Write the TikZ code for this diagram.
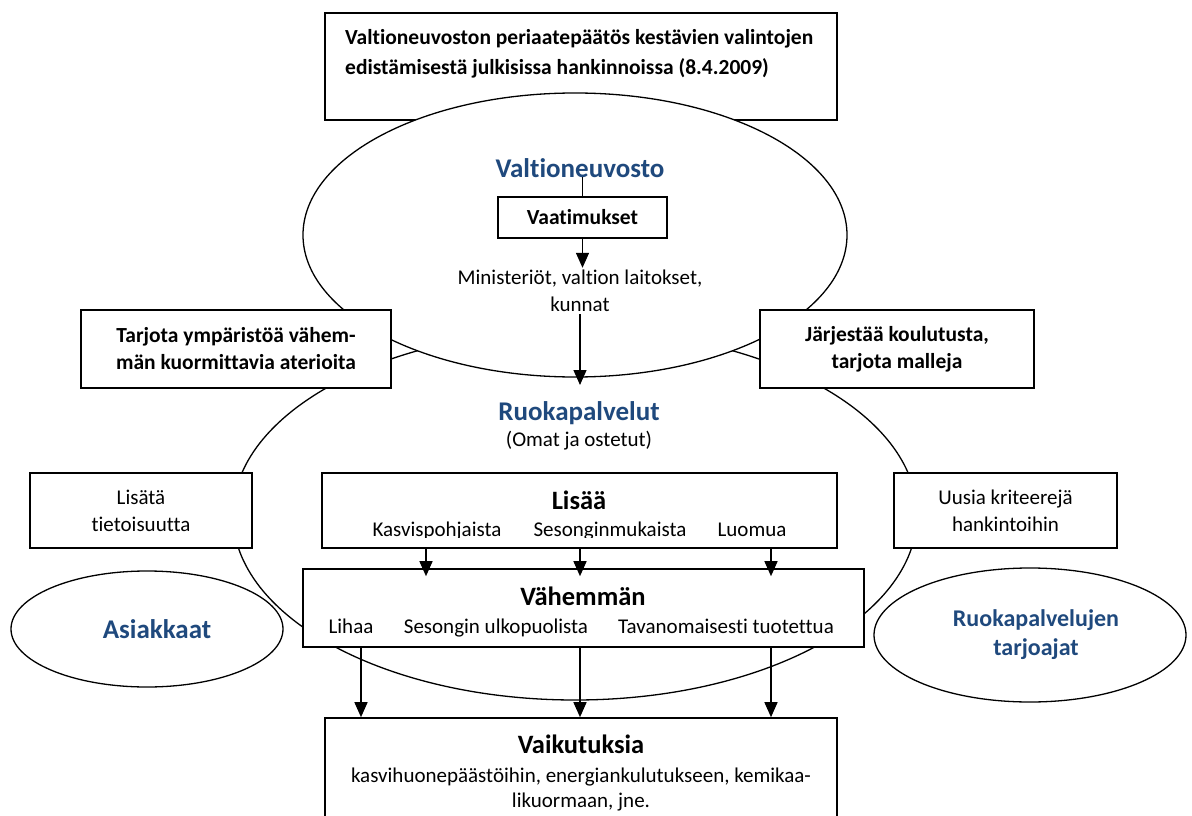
\documentclass[tikz,border=0pt]{standalone}
\usepackage{fontspec}
\setmainfont{Carlito}[Ligatures=NoCommon]
\usetikzlibrary{arrows.meta,shapes.geometric,calc}
\definecolor{tblue}{HTML}{1F497D}
\begin{document}
\begin{tikzpicture}[x=1pt,y=-1pt,
  box/.style={draw, line width=1.6pt, fill=white, inner sep=0pt, align=center},
  ell/.style={draw, ellipse, line width=1.3pt, inner sep=0pt},
  arr/.style={line width=1.4pt, -{Triangle[width=13pt,length=15pt]}},
  con/.style={line width=1.4pt},
  bt/.style={font=\fontsize{21.5}{27}\selectfont\bfseries},
  nt/.style={font=\fontsize{21}{27}\selectfont},
  ttl/.style={font=\fontsize{27}{30}\selectfont\bfseries, text=tblue},
  hd/.style={font=\fontsize{26.5}{30}\selectfont\bfseries},
  lbl/.style={inner sep=0pt, anchor=base}
]
\useasboundingbox (0,0) rectangle (1192,816);

% large ellipse (Ruokapalvelut)
\node[ell, minimum width=684pt, minimum height=370pt] (ruokell) at (575,515) {};

% top box
\node[box, minimum width=512pt, minimum height=107pt] (topbox) at (581,66.5) {};
\node[bt, lbl, anchor=base west] (top1) at (345,45) {Valtioneuvoston periaatepäätös kestävien valintojen};
\node[bt, lbl, anchor=base west] (top2) at (345,75) {edistämisestä julkisissa hankinnoissa (8.4.2009)};

% top ellipse (Valtioneuvosto)
\node[ell, fill=white, minimum width=544pt, minimum height=284pt] (valtell) at (575,235) {};
\node[ttl, lbl] (valt) at (580,177) {Valtioneuvosto};
\node[box, bt, minimum width=169pt, minimum height=41pt] (vaat) at (582.5,217.5) {Vaatimukset};
\node[nt, align=center, inner sep=0pt] (min) at (580,291) {Ministeriöt, valtion laitokset,\\kunnat};

% side boxes
\node[box, bt, minimum width=310pt, minimum height=78pt] (tarj) at (236,349) {Tarjota ympäristöä vähem-\\män kuormittavia aterioita};
\node[box, bt, minimum width=274pt, minimum height=78pt] (jarj) at (897,349) {Järjestää koulutusta,\\tarjota malleja};

% Ruokapalvelut title
\node[ttl, lbl] (ruok) at (579,420) {Ruokapalvelut};
\node[nt, lbl] (omat) at (579,446) {(Omat ja ostetut)};

% row of boxes
\node[box, nt, minimum width=222pt, minimum height=75pt] (lisata) at (141,510.5) {Lisätä\\tietoisuutta};
\node[box, nt, minimum width=223pt, minimum height=75pt] (uusia) at (1005.5,510.5) {Uusia kriteerejä\\hankintoihin};
\node[box, minimum width=515pt, minimum height=75pt] (lisbox) at (579.5,510.5) {};
\node[hd, lbl] (lisaa) at (579,509) {Lisää};
\begin{scope}
\clip (322,470) rectangle (837,537.5);
\node[nt, lbl] (kas) at (437,536) {Kasvispohjaista};
\node[nt, lbl] (ses) at (610,536) {Sesonginmukaista};
\node[nt, lbl] (luo) at (752,536) {Luomua};
\end{scope}

\node[box, minimum width=561pt, minimum height=78pt] (vahbox) at (583.5,608) {};
\node[hd, lbl] (vah) at (583,605) {Vähemmän};
\node[nt, lbl] (lih) at (351,633) {Lihaa};
\node[nt, lbl] (sul) at (496,633) {Sesongin ulkopuolista};
\node[nt, lbl] (tav) at (726,633) {Tavanomaisesti tuotettua};

\node[box, minimum width=512pt, minimum height=112pt] (vaikbox) at (581,774) {};
\node[hd, lbl] (vaik) at (581,753) {Vaikutuksia};
\node[nt, lbl] (vk1) at (581,782) {kasvihuonepäästöihin, energiankulutukseen, kemikaa-};
\node[nt, lbl] (vk2) at (581,807) {likuormaan, jne.};

% outer ellipses
\node[ell, minimum width=272pt, minimum height=116pt] (asiell) at (147,629) {};
\node[ttl, lbl] (asi) at (157,638) {Asiakkaat};
\node[ell, minimum width=312pt, minimum height=134pt] (tarjell) at (1030,635) {};
\node[ttl, font=\fontsize{24}{29}\selectfont\bfseries, align=center, inner sep=0pt] (rtarj) at (1036,635) {Ruokapalvelujen\\tarjoajat};

% connectors
\coordinate (c1) at (426,0);
\coordinate (c2) at (580,0);
\coordinate (c3) at (771,0);
\coordinate (d1) at (361,0);
\coordinate (ruoktip) at (580,385);
\draw[con] (valt.south -| vaat.north) -- (vaat.north);
\draw[arr] (vaat.south) -- ($(vaat.south)+(0,29)$);
\draw[arr] ($(min.south)+(0,2)$) -- (ruoktip);
\draw[arr] (lisbox.south -| c1) -- ($(vahbox.north -| c1)+(0,8)$);
\draw[arr] (lisbox.south -| c2) -- ($(vahbox.north -| c2)+(0,8)$);
\draw[arr] (lisbox.south -| c3) -- ($(vahbox.north -| c3)+(0,8)$);
\draw[arr] (vahbox.south -| d1) -- (vaikbox.north -| d1);
\draw[arr] (vahbox.south -| c2) -- (vaikbox.north -| c2);
\draw[arr] (vahbox.south -| c3) -- (vaikbox.north -| c3);
\end{tikzpicture}
\end{document}
